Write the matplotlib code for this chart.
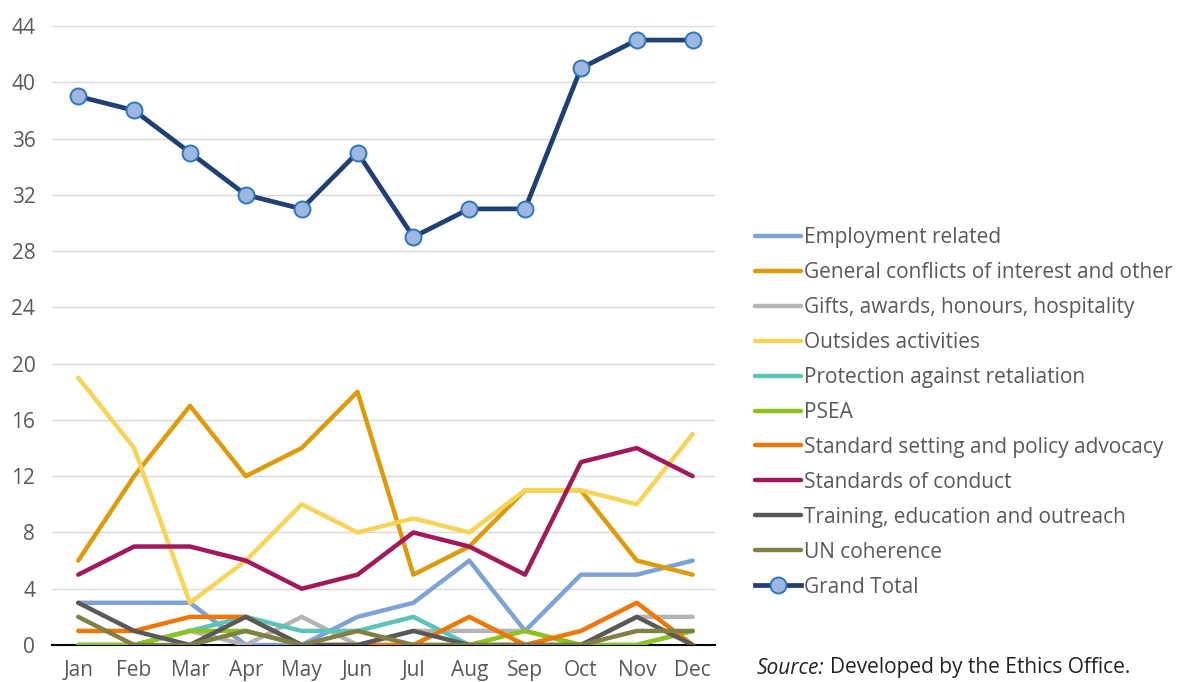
import matplotlib
matplotlib.use("Agg")
import matplotlib.pyplot as plt

# --- data ---
months = ["Jan", "Feb", "Mar", "Apr", "May", "Jun",
          "Jul", "Aug", "Sep", "Oct", "Nov", "Dec"]

employment = [3, 3, 3, 0, 0, 2, 3, 6, 1, 5, 5, 6]
general_conflicts = [6, 12, 17, 12, 14, 18, 5, 7, 11, 11, 6, 5]
gifts = [0, 0, 1, 0, 2, 0, 1, 1, 1, 0, 2, 2]
outside_activities = [19, 14, 3, 6, 10, 8, 9, 8, 11, 11, 10, 15]
protection = [0, 0, 1, 2, 1, 1, 2, 0, 0, 0, 0, 1]
psea = [0, 0, 1, 1, 0, 0, 0, 0, 1, 0, 0, 1]
standard_setting = [1, 1, 2, 2, 0, 0, 0, 2, 0, 1, 3, 0]
standards_conduct = [5, 7, 7, 6, 4, 5, 8, 7, 5, 13, 14, 12]
training = [3, 1, 0, 2, 0, 0, 1, 0, 0, 0, 2, 0]
un_coherence = [2, 0, 0, 1, 0, 1, 0, 0, 0, 0, 1, 1]
grand_total = [39, 38, 35, 32, 31, 35, 29, 31, 31, 41, 43, 43]

y_ticks = [0, 4, 8, 12, 16, 20, 24, 28, 32, 36, 40, 44]

series = [
    ("Employment related", employment, "#7FA2D6"),
    ("General conflicts of interest and other", general_conflicts, "#DE9A0A"),
    ("Gifts, awards, honours, hospitality", gifts, "#B4B4B4"),
    ("Outsides activities", outside_activities, "#F7D458"),
    ("Protection against retaliation", protection, "#5CC3B8"),
    ("PSEA", psea, "#8DC21F"),
    ("Standard setting and policy advocacy", standard_setting, "#F07605"),
    ("Standards of conduct", standards_conduct, "#A2195B"),
    ("Training, education and outreach", training, "#595959"),
    ("UN coherence", un_coherence, "#808044"),
]

plt.rcParams["font.family"] = ["Open Sans", "DejaVu Sans"]

W, H = 1198, 682
fig = plt.figure(figsize=(W / 100, H / 100), dpi=100)
ax = fig.add_axes([52 / W, (H - 645) / H, (715 - 52) / W, (645 - 26) / H])

x = list(range(len(months)))

for label, vals, color in series:
    ax.plot(x, vals, color=color, linewidth=3.2, label=label,
            solid_capstyle="round", solid_joinstyle="round", zorder=3)

ax.plot(x, grand_total, color="#203F74", linewidth=3.4, label="Grand Total",
        marker="o", markersize=11.5, markerfacecolor="#9DB7E0",
        markeredgecolor="#2E75C2", markeredgewidth=1.4,
        solid_joinstyle="round", zorder=4)

# axes styling
ax.set_xlim(-0.47, 11.4)
ax.set_ylim(0, 44)
ax.set_yticks(y_ticks)
ax.set_xticks(x)
ax.set_xticklabels(months)
ax.yaxis.grid(True, color="#D9D9D9", linewidth=1)
ax.set_axisbelow(True)
for side in ["top", "right", "left"]:
    ax.spines[side].set_visible(False)
ax.spines["bottom"].set_color("black")
ax.spines["bottom"].set_linewidth(1.5)
ax.spines["bottom"].set_zorder(1)
ax.tick_params(axis="both", length=0, labelsize=15, colors="#595959")
ax.tick_params(axis="y", pad=12)
ax.tick_params(axis="x", pad=11)

leg = fig.legend(loc="upper left", bbox_to_anchor=(755 / W, (H - 227) / H),
                 frameon=False, fontsize=15, handlelength=2.2,
                 handletextpad=0.15, labelspacing=0.67, borderpad=0,
                 borderaxespad=0)
for t in leg.get_texts():
    t.set_color("#595959")

# source note: italic "Source:" followed by plain text
src = fig.text(757 / W, (H - 668) / H, "Source:", fontsize=15, style="italic",
               color="#222222", va="center", ha="left")
fig.canvas.draw()
bb = src.get_window_extent()
fig.text((bb.x1 + 5) / W, (H - 668) / H, "Developed by the Ethics Office.",
         fontsize=15, color="#222222", va="center", ha="left")

fig.savefig("out.png", dpi=100)
